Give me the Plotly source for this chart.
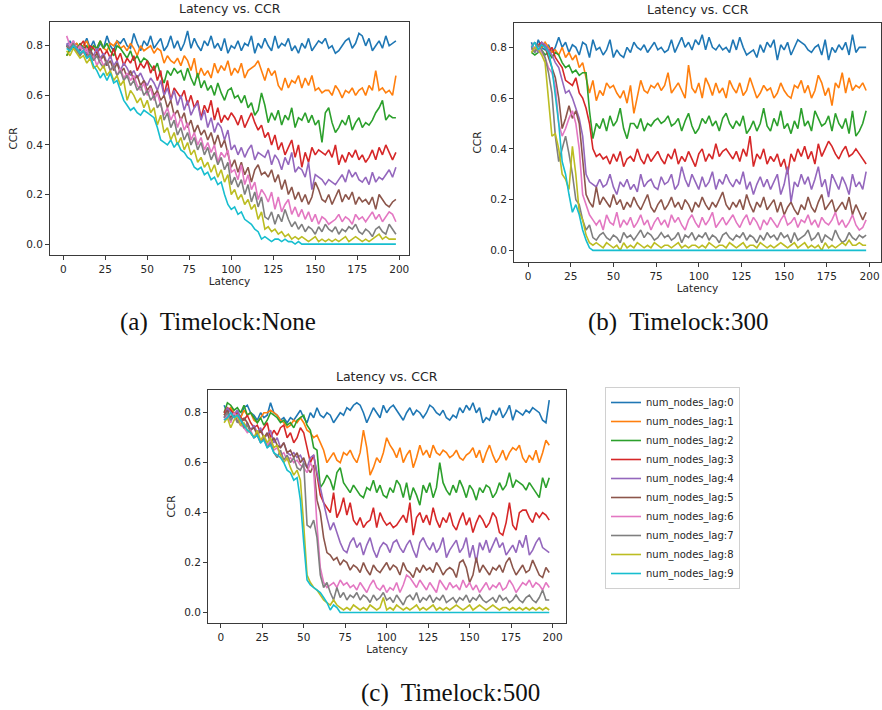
import plotly.graph_objects as go

W, H = 882, 710

LATENCY = list(range(2, 200, 2))
LAG_NAMES = [f"num_nodes_lag:{i}" for i in range(10)]
COLORS = ["#1f77b4", "#ff7f0e", "#2ca02c", "#d62728", "#9467bd",
          "#8c564b", "#e377c2", "#7f7f7f", "#bcbd22", "#17becf"]
PANEL_TITLES = ["Latency vs. CCR", "Latency vs. CCR", "Latency vs. CCR"]
CAPTIONS = ["(a)  Timelock:None", "(b)  Timelock:300", "(c)  Timelock:500"]
X_TICKS = [0, 25, 50, 75, 100, 125, 150, 175, 200]
Y_TICKS = [0.0, 0.2, 0.4, 0.6, 0.8]

# ---- Panel (a) Timelock:None  (CCR in hundredths) ----
A_LAG0 = [80,82,79,81,78,80,83,79,82,78, 81,79,84,80,78,82,81,83,80,79,
          85,81,78,82,80,84,79,81,83,78, 80,84,79,82,78,81,86,79,83,80,
          78,82,80,84,79,81,78,83,77,80, 79,82,78,81,80,84,77,81,79,83,
          80,78,84,79,81,80,83,78,80,77, 81,79,83,78,80,82,81,83,79,80,
          77,78,80,82,83,79,81,85,84,80, 83,78,80,82,79,84,80,81,82]
A_LAG1 = [76,78,80,81,79,80,82,78,80,79, 82,79,78,81,80,82,79,80,78,81,
          79,76,80,78,79,80,77,79,78,73, 76,74,73,75,72,76,74,70,75,67,
          71,68,70,67,73,69,72,70,74,68, 71,69,73,67,70,71,72,74,70,66,
          71,68,70,64,62,67,63,66,65,68, 63,67,64,68,62,63,61,62,62,60,
          64,62,59,62,61,63,60,62,63,60, 64,62,70,62,63,61,62,60,68]
A_LAG2 = [76,79,80,78,81,79,80,77,80,79, 82,79,81,78,76,80,79,77,75,78,
          74,76,73,75,74,72,70,73,68,65, 70,68,71,69,70,66,71,67,64,69,
          63,66,62,64,60,65,61,58,62,63, 59,60,57,60,55,57,52,54,61,56,
          49,53,50,54,48,52,50,55,47,51, 50,53,49,52,48,50,41,53,55,49,
          45,47,50,48,52,46,49,51,47,49, 48,50,53,55,58,50,52,51,51]
A_LAG3 = [80,78,81,79,80,82,78,80,79,77, 79,76,78,75,79,74,77,72,75,73,
          76,70,73,71,74,69,72,66,70,60, 66,58,63,61,59,62,56,60,55,58,
          51,56,53,58,50,55,49,52,50,53, 51,48,52,47,50,53,49,46,48,43,
          45,40,44,38,41,36,39,42,35,40, 31,37,33,39,36,38,37,36,38,35,
          40,32,36,33,37,35,38,34,36,33, 35,38,34,39,36,40,37,34,37]
A_LAG4 = [81,79,82,78,80,79,77,78,76,79, 75,77,73,76,72,74,70,73,71,68,
          70,67,69,66,64,67,65,62,66,60, 63,58,62,56,60,54,58,52,55,57,
          50,54,47,51,45,49,47,42,46,38, 40,36,39,35,38,40,34,37,36,35,
          38,32,36,34,30,35,32,37,29,31, 30,27,33,22,28,27,26,24,26,25,
          24,26,28,25,30,27,29,26,25,27, 24,29,25,27,26,28,30,27,31]
A_LAG5 = [80,78,81,79,77,78,76,79,75,77, 74,76,72,74,70,73,69,71,67,70,
          66,68,64,66,62,64,60,62,58,60, 55,58,52,54,50,53,47,50,45,48,
          44,46,42,45,40,44,39,42,37,31, 34,29,33,28,31,25,30,32,28,29,
          27,30,25,28,22,26,20,23,18,21, 17,20,16,19,25,22,18,17,20,16,
          19,22,17,20,18,21,16,19,17,18, 16,19,14,20,18,16,15,17,18]
A_LAG6 = [84,80,82,78,80,77,79,74,76,72, 75,72,74,70,72,68,71,67,69,66,
          68,64,62,65,60,63,58,61,56,52, 55,50,53,47,51,46,49,42,45,40,
          43,38,41,37,40,33,37,35,38,29, 30,26,32,24,28,22,25,18,22,20,
          17,21,14,19,13,16,18,12,15,11, 14,10,13,9,12,8,11,10,8,9,
          10,12,9,11,10,8,12,10,11,9, 11,13,10,12,9,11,13,12,9]
A_LAG7 = [80,79,81,78,76,78,75,77,74,76, 73,71,74,70,72,68,70,66,68,64,
          66,62,64,60,62,58,60,55,57,50, 53,47,50,44,47,42,45,40,43,38,
          41,36,39,34,37,32,35,30,33,24, 27,23,26,20,24,17,21,15,19,11,
          10,13,8,12,9,14,10,7,9,6, 8,5,7,6,4,7,5,8,6,5,
          7,4,6,5,7,6,8,5,4,6, 5,3,6,7,5,4,8,6,4]
A_LAG8 = [78,76,79,77,75,76,73,75,71,72, 70,72,68,70,66,68,64,66,58,62,
          60,57,59,55,58,53,55,48,52,45, 47,42,45,40,43,38,41,36,38,33,
          35,31,33,29,32,27,30,25,28,20, 22,18,20,16,18,14,16,10,13,6,
          7,5,6,4,5,3,4,2,3,2, 3,2,1,2,3,1,2,1,2,1,
          2,1,2,3,1,2,3,2,1,2, 1,2,3,4,2,3,2,2,2]
A_LAG9 = [79,78,80,79,77,78,75,76,72,70, 67,69,66,69,65,66,62,58,56,54,
          55,53,52,54,53,52,51,47,42,41, 40,42,39,41,38,37,35,34,31,30,
          31,28,29,26,27,24,25,20,16,14, 15,12,13,10,9,8,6,5,2,3,
          2,1,2,2,1,2,1,1,0,1, 0,0,0,0,0,0,0,0,0,0,
          0,0,0,0,0,0,0,0,0,0, 0,0,0,0,0,0,0,0,0]

# ---- Panel (b) Timelock:300 ----
B_LAG0 = [82,78,83,80,79,81,78,80,84,80, 82,78,81,80,77,82,81,76,83,79,
          80,77,79,83,76,79,77,76,80,78, 82,80,79,81,78,80,82,79,80,78,
          79,83,78,81,84,80,82,79,83,81, 85,79,84,80,79,81,79,80,78,83,
          79,84,80,77,78,79,76,81,78,82, 80,83,75,81,79,82,77,80,83,82,
          81,79,78,80,81,77,83,75,80,78, 81,79,82,77,85,78,80,80,80]
B_LAG1 = [80,79,81,80,82,80,78,79,77,80, 76,78,75,77,72,74,68,62,67,59,
          63,61,66,64,65,62,60,63,58,65, 54,60,67,63,62,65,64,66,63,65,
          70,62,64,66,63,60,73,64,62,66, 60,68,65,61,66,62,64,60,67,64,
          62,66,61,63,68,64,60,62,65,63, 64,60,62,66,63,61,60,65,64,67,
          62,65,60,63,69,66,61,64,57,66, 64,70,62,68,63,65,64,66,63]
B_LAG2 = [78,77,78,79,77,78,76,78,77,74, 72,73,70,71,69,70,70,55,44,50,
          48,52,47,53,49,51,56,48,44,50, 50,48,52,47,50,49,51,52,50,51,
          53,49,50,52,47,51,54,49,46,48, 52,50,53,49,51,47,52,54,50,48,
          51,49,53,46,48,51,47,50,56,49, 47,52,49,55,48,50,46,51,48,56,
          49,51,47,55,52,49,50,53,47,54, 50,48,52,46,55,45,47,50,55]
B_LAG3 = [80,79,81,82,80,78,80,76,74,72, 67,66,65,68,62,60,56,50,40,37,
          38,36,37,34,38,35,39,33,36,37, 35,40,36,34,38,35,37,39,36,34,
          38,36,40,34,37,35,39,36,33,38, 40,35,38,36,42,37,39,40,38,36,
          39,35,40,37,45,33,38,36,40,34, 37,35,38,33,36,30,38,35,40,37,
          41,36,39,34,42,37,40,43,41,38, 36,39,41,37,38,40,38,36,34]
B_LAG4 = [79,80,78,82,81,79,77,74,72,67, 62,63,60,56,52,45,30,27,26,25,
          28,25,26,30,25,22,27,25,28,24, 26,23,30,25,27,28,25,24,29,26,
          27,30,24,26,33,28,25,30,27,24, 29,25,27,31,24,28,26,30,27,25,
          28,26,31,24,27,22,26,29,25,28, 24,27,30,22,26,33,19,27,25,30,
          26,29,24,28,33,25,28,21,30,27, 24,29,26,22,30,25,27,24,31]
B_LAG5 = [80,82,79,81,80,76,72,68,60,48, 52,57,52,55,50,35,22,19,17,25,
          18,21,19,17,22,18,20,16,19,17, 21,18,16,19,22,17,15,18,20,16,
          18,21,17,19,16,20,18,15,19,17, 21,18,16,19,17,20,23,18,16,19,
          17,20,16,22,18,15,19,17,21,16, 18,20,15,19,14,17,19,16,14,18,
          16,21,17,15,19,22,16,18,20,15, 17,19,16,21,14,18,15,12,15]
B_LAG6 = [81,79,80,78,76,72,70,65,50,45, 48,52,55,50,40,22,18,14,12,10,
          12,8,14,11,10,15,9,12,10,13, 9,11,14,10,12,8,11,13,10,12,
          9,14,11,13,10,8,12,14,11,9, 13,10,12,15,9,11,13,10,12,14,
          11,9,12,14,10,13,11,8,12,10, 13,11,9,12,14,10,11,13,9,12,
          11,14,10,12,9,13,11,10,12,15, 10,12,9,11,14,10,8,9,12]
B_LAG7 = [80,78,81,79,76,70,62,45,35,40, 45,38,30,20,18,12,8,10,5,4,
          6,7,5,4,6,5,3,7,5,6, 4,6,8,5,7,6,4,5,7,5,
          6,4,5,7,3,6,5,7,4,6, 5,7,4,6,5,3,6,7,5,4,
          6,5,7,4,6,5,3,6,4,7, 5,6,4,7,5,6,3,7,4,5,
          6,8,4,5,7,3,6,5,4,8, 5,3,4,7,5,4,6,5,6]
B_LAG8 = [78,80,79,77,74,60,45,46,40,30, 28,24,41,30,15,12,6,3,2,3,
          2,1,3,2,1,2,0,3,1,2, 1,3,2,1,2,1,3,2,1,2,
          2,1,2,3,1,2,1,2,2,1, 2,1,3,2,1,2,2,1,3,2,
          1,2,3,1,2,2,1,3,2,1, 2,1,2,3,2,1,2,3,1,2,
          3,1,2,1,2,0,3,1,2,1, 2,3,2,4,2,2,3,2,2]
B_LAG9 = [80,82,79,81,80,78,72,62,50,35, 30,22,15,18,14,8,4,1,0,0,
          0,0,0,0,0,0,0,0,0,0, 0,0,0,0,0,0,0,0,0,0,
          0,0,0,0,0,0,0,0,0,0, 0,0,0,0,0,0,0,0,0,0,
          0,0,0,0,0,0,0,0,0,0, 0,0,0,0,0,0,0,0,0,0,
          0,0,0,0,0,0,0,0,0,0, 0,0,0,0,0,0,0,0,0]

# ---- Panel (c) Timelock:500 ----
C_LAG0 = [83,80,82,79,81,78,82,83,80,79, 77,80,78,79,84,80,79,77,78,76,
          78,77,79,81,78,76,80,78,82,79, 78,80,79,76,78,80,79,82,81,83,
          84,83,80,76,79,82,80,78,83,80, 82,83,81,79,77,80,82,79,81,80,
          78,80,83,82,80,79,81,78,77,79, 78,82,80,83,81,84,80,82,76,78,
          77,81,79,82,78,80,83,77,81,80, 79,81,80,82,81,80,77,76,85]
C_LAG1 = [79,81,82,80,79,78,81,79,80,77, 76,78,80,80,81,80,79,77,76,74,
          75,77,76,78,76,73,72,70,71,68, 65,60,62,64,61,60,64,63,65,62,
          60,64,73,66,55,58,62,60,64,70, 67,65,62,66,60,63,65,58,62,67,
          63,65,62,67,64,63,65,64,62,63, 65,62,61,63,64,66,62,65,60,64,
          67,63,60,62,65,61,64,66,65,67, 62,60,63,61,65,60,64,69,67]
C_LAG2 = [80,84,83,81,82,80,83,79,80,78, 76,78,75,77,80,79,78,76,77,75,
          76,74,77,78,79,75,73,66,65,50, 52,55,53,49,56,58,52,50,48,51,
          49,47,46,50,49,53,48,51,47,46, 50,48,53,51,46,52,45,50,47,43,
          51,48,52,46,50,60,52,49,47,51, 48,53,50,46,51,49,45,50,48,51,
          50,46,48,52,49,51,56,50,53,52, 51,49,52,50,48,46,54,50,54]
C_LAG3 = [80,82,81,79,80,78,77,79,76,74, 75,72,74,76,70,73,71,74,75,70,
          72,68,70,74,72,66,60,63,55,47, 44,42,40,48,38,41,46,39,44,37,
          35,38,34,36,37,42,34,40,37,35, 36,34,35,37,39,36,44,31,38,40,
          36,39,35,42,37,34,38,36,40,35, 33,37,40,35,38,32,36,39,37,34,
          36,40,38,32,31,36,44,35,33,40, 41,41,38,36,40,38,40,39,37]
C_LAG4 = [78,82,80,79,81,77,74,76,73,75, 72,74,70,71,73,68,70,66,68,64,
          63,64,62,63,60,58,62,63,56,50, 43,38,33,36,32,28,25,24,28,30,
          26,28,23,27,30,25,22,26,28,27, 24,28,29,26,24,27,29,25,22,28,
          30,27,25,28,24,26,30,22,25,27, 29,24,26,30,22,27,20,28,25,29,
          24,27,30,26,28,23,25,27,24,29, 26,31,23,25,28,30,26,25,24]
C_LAG5 = [79,81,78,80,77,75,78,76,73,74, 71,73,70,72,68,70,67,66,68,64,
          65,62,64,60,62,58,56,59,45,40, 30,24,23,21,22,19,21,20,17,19,
          18,16,20,17,15,19,17,16,18,20, 17,19,18,15,20,17,16,14,18,16,
          19,17,18,16,20,18,15,17,18,17, 14,20,21,18,12,15,22,16,19,17,
          15,18,17,19,16,20,22,18,15,17, 19,16,17,21,18,15,14,18,16]
C_LAG6 = [77,79,76,80,78,75,74,72,73,70, 71,68,70,67,69,65,66,63,64,61,
          62,60,61,59,58,56,60,57,35,18, 12,10,11,12,10,13,11,12,10,11,
          9,12,10,8,11,13,10,9,11,8, 10,9,12,8,11,15,14,12,10,13,
          11,9,12,10,8,13,11,9,12,10, 11,9,13,10,12,9,11,8,10,12,
          9,11,10,12,9,10,13,11,8,10, 12,11,13,10,12,11,9,12,10]
C_LAG7 = [78,80,77,79,76,78,74,75,72,70, 71,68,70,66,68,64,62,65,61,63,
          60,62,58,57,60,35,34,37,30,15, 10,12,8,5,10,6,8,5,7,6,
          8,5,7,6,4,7,5,6,8,5, 6,4,7,5,3,6,7,5,8,4,
          6,5,7,4,6,5,7,4,5,6, 4,6,5,7,4,6,5,7,5,4,
          5,6,4,7,5,6,4,5,7,5, 4,6,7,5,4,6,9,5,5]
C_LAG8 = [76,78,74,77,79,75,76,73,72,70, 73,69,71,68,70,66,67,63,60,62,
          58,55,57,53,35,15,12,10,9,7, 5,4,3,5,3,2,1,2,1,3,
          2,1,2,1,3,2,1,2,6,1, 2,1,3,2,1,2,1,2,3,1,
          2,1,2,3,1,2,1,2,1,2, 3,2,1,2,3,1,2,3,2,1,
          2,3,2,1,2,2,1,2,1,2, 1,2,1,2,1,2,1,2,1]
C_LAG9 = [77,78,80,78,79,77,75,73,72,70, 71,68,69,66,67,64,63,62,60,57,
          56,53,54,45,28,13,11,10,9,8, 6,4,1,3,2,0,0,0,0,0,
          0,0,0,0,0,0,0,0,0,0, 0,0,0,0,0,0,0,0,0,0,
          0,0,0,0,0,0,0,0,0,0, 0,0,0,0,0,0,0,0,0,0,
          0,0,0,0,0,0,0,0,0,0, 0,0,0,0,0,0,0,0,0]

PANELS = [
    [A_LAG0, A_LAG1, A_LAG2, A_LAG3, A_LAG4, A_LAG5, A_LAG6, A_LAG7, A_LAG8, A_LAG9],
    [B_LAG0, B_LAG1, B_LAG2, B_LAG3, B_LAG4, B_LAG5, B_LAG6, B_LAG7, B_LAG8, B_LAG9],
    [C_LAG0, C_LAG1, C_LAG2, C_LAG3, C_LAG4, C_LAG5, C_LAG6, C_LAG7, C_LAG8, C_LAG9],
]

bad = [(p, i, len(s)) for p, pan in enumerate(PANELS) for i, s in enumerate(pan) if len(s) != len(LATENCY)]
assert not bad, f"length mismatch: {bad}"

# axes boxes in pixels: (left, right, top, bottom), x-range, y-range
BOXES = [
    ((50, 409, 22, 255), [-7.9, 205.8], [-0.044, 0.896]),
    ((514, 881, 23, 262), [-8.2, 206.7], [-0.046, 0.896]),
    ((208, 566, 390, 623), [-7.7, 208.1], [-0.042, 0.891]),
]
CAPTION_POS = [(218, 322), (678, 322), (450, 693)]

FONT = "DejaVu Sans"
TXT = "#262626"

fig = go.Figure()
for p, pan in enumerate(PANELS):
    sfx = "" if p == 0 else str(p + 1)
    for i, vals in enumerate(pan):
        fig.add_trace(go.Scatter(
            x=LATENCY, y=[v / 100 for v in vals], mode="lines",
            line=dict(color=COLORS[i], width=1.6),
            name=LAG_NAMES[i], legendgroup=LAG_NAMES[i],
            showlegend=(p == 2),
            xaxis="x" + sfx, yaxis="y" + sfx,
        ))

layout = dict(
    width=W, height=H, margin=dict(l=0, r=0, t=0, b=0),
    paper_bgcolor="white", plot_bgcolor="white",
    font=dict(family=FONT, size=10.5, color=TXT),
    showlegend=True,
    legend=dict(
        x=605 / W, y=1 - 387 / H, xanchor="left", yanchor="top",
        bordercolor="#d0d0d0", borderwidth=1, bgcolor="white",
        font=dict(family=FONT, size=10, color=TXT),
        itemwidth=30, tracegroupgap=0,
    ),
)
annotations = []
axis_common = dict(
    showline=True, linecolor="#3a3a3a", linewidth=1, mirror=True,
    ticks="outside", ticklen=4, tickcolor="#3a3a3a", tickwidth=1,
    showgrid=False, zeroline=False,
    tickfont=dict(family=FONT, size=10.5, color=TXT),
)
for p, ((l, r, t, b), xr, yr) in enumerate(BOXES):
    sfx = "" if p == 0 else str(p + 1)
    layout["xaxis" + sfx] = dict(
        axis_common, domain=[l / W, r / W], range=xr, anchor="y" + sfx,
        tickvals=X_TICKS, ticktext=[str(v) for v in X_TICKS],
        title=dict(text="Latency", standoff=3, font=dict(family=FONT, size=10.5, color=TXT)),
    )
    layout["yaxis" + sfx] = dict(
        axis_common, domain=[1 - b / H, 1 - t / H], range=yr, anchor="x" + sfx,
        tickvals=Y_TICKS, ticktext=[f"{v:.1f}" for v in Y_TICKS],
        title=dict(text="CCR", standoff=6, font=dict(family=FONT, size=10.5, color=TXT)),
    )
    annotations.append(dict(
        text=PANEL_TITLES[p], xref="paper", yref="paper",
        x=(l + r) / 2 / W, y=1 - (t - 4) / H, xanchor="center", yanchor="bottom",
        showarrow=False, font=dict(family=FONT, size=12.5, color=TXT),
    ))
    cx, cy = CAPTION_POS[p]
    annotations.append(dict(
        text=CAPTIONS[p], xref="paper", yref="paper",
        x=cx / W, y=1 - cy / H, xanchor="center", yanchor="middle",
        showarrow=False, font=dict(family="Liberation Serif", size=25, color="#111111"),
    ))
layout["annotations"] = annotations
fig.update_layout(**layout)

fig.write_html("out.html")
